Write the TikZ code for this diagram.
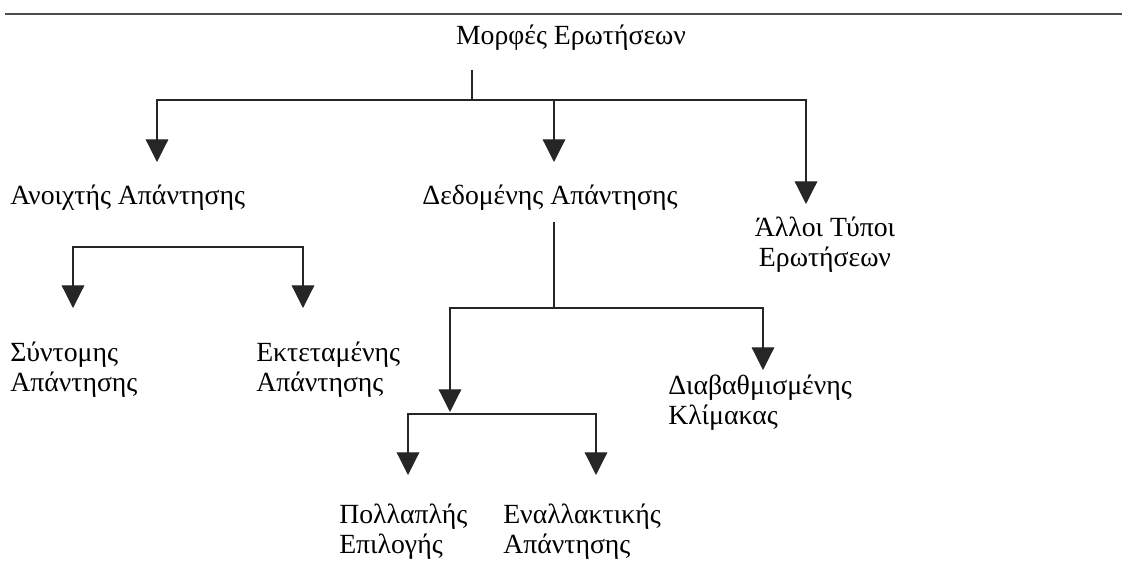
\documentclass[tikz,border=0pt]{standalone}
\usepackage{fontspec}
\setmainfont{Liberation Serif}
\usetikzlibrary{arrows.meta}
\begin{document}
\begin{tikzpicture}[x=0.75pt,y=-0.75pt,
  every node/.style={font=\fontsize{20.8}{22.5}\selectfont, inner sep=0pt},
  lbl/.style={anchor=west, align=left},
  conn/.style={line width=0.9pt, draw=black!85},
  arr/.style={conn, -{Triangle[length=17pt,width=17pt]}}]
\useasboundingbox (0,0) rectangle (1122,581);
\draw[line width=1.6pt, draw=black!70] (5,14) coordinate (rl) -- (1122,14) coordinate (rr);

\node (title) at (571,38) {Μορφές Ερωτήσεων};
\node[lbl] (open) at (10,198) {Ανοιχτής Απάντησης};
\node (given) at (550,198) {Δεδομένης Απάντησης};
\node[align=center] (other) at (825,245) {Άλλοι Τύποι\\ Ερωτήσεων};
\node[lbl] (short) at (10,370) {Σύντομης\\Απάντησης};
\node[lbl] (ext) at (256,370) {Εκτεταμένης\\Απάντησης};
\node[lbl] (grad) at (668,403) {Διαβαθμισμένης\\Κλίμακας};
\node[lbl] (multi) at (339,532) {Πολλαπλής\\Επιλογής};
\node[lbl] (alt) at (503,532) {Εναλλακτικής\\Απάντησης};

\coordinate (j1) at (472,100);
\coordinate (aOpen) at (157,162);
\coordinate (aGiven) at (554,162);
\coordinate (aOther) at (806,204);
\draw[conn] ([yshift=-14pt]title.south -| j1) -- (j1);
\draw[arr] (j1) -| (aOpen);
\draw[arr] (j1) -| (aOther);
\draw[arr] (j1 -| aGiven) -- (aGiven);

\coordinate (m1) at (188,247);
\coordinate (aShort) at (73,308);
\coordinate (aExt) at (303,308);
\draw[arr] (m1) -| (aShort);
\draw[arr] (m1) -| (aExt);

\coordinate (j2) at (554,308);
\coordinate (aSub) at (450,412);
\coordinate (aGrad) at (763,370);
\draw[conn] ([yshift=-8pt]given.south -| j2) -- (j2);
\draw[arr] (j2) -| (aSub);
\draw[arr] (j2) -| (aGrad);

\coordinate (j3) at (450,414);
\coordinate (aMulti) at (408,475);
\coordinate (aAlt) at (596,475);
\draw[arr] (j3) -| (aMulti);
\draw[arr] (j3) -| (aAlt);
\end{tikzpicture}
\end{document}
